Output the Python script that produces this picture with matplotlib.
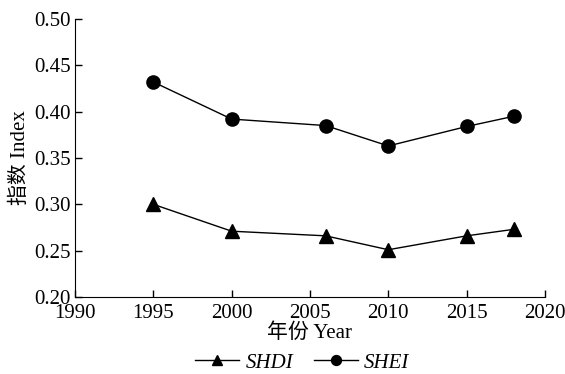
import matplotlib.pyplot as plt

years = [1995, 2000, 2006, 2010, 2015, 2018]
shdi = [0.300, 0.271, 0.266, 0.251, 0.266, 0.273]
shei = [0.432, 0.392, 0.385, 0.363, 0.384, 0.395]

plt.rcParams['font.family'] = ['Liberation Serif', 'Noto Sans CJK SC']
plt.rcParams['font.size'] = 15

fig = plt.figure(figsize=(5.65, 3.74), dpi=100)
ax = fig.add_axes([0.1327, 0.2059, 0.8319, 0.7433])

ax.plot(years, shdi, color='black', lw=1, marker='^', ms=9.5, label='SHDI')
ax.plot(years, shei, color='black', lw=1, marker='o', ms=9.5, label='SHEI')

ax.set_xlim(1990, 2020)
ax.set_ylim(0.20, 0.50)
ax.set_xticks(range(1990, 2021, 5))
ax.set_yticks([0.20, 0.25, 0.30, 0.35, 0.40, 0.45, 0.50])
ax.set_yticklabels(['0.20', '0.25', '0.30', '0.35', '0.40', '0.45', '0.50'])
ax.tick_params(direction='in', length=5, width=1, labelsize=15)
ax.tick_params(axis='x', pad=5)
ax.tick_params(axis='y', pad=3)
ax.spines['top'].set_visible(False)
ax.spines['right'].set_visible(False)
ax.set_xlabel('年份 Year', fontsize=15, labelpad=0)
ax.set_ylabel('指数 Index', fontsize=15, labelpad=3)

leg = fig.legend(loc='center', bbox_to_anchor=(0.535, 0.03), ncol=2, frameon=False,
                 prop={'style': 'italic', 'size': 15}, handlelength=2.1, markerscale=0.75,
                 handletextpad=0.3, columnspacing=1.0, borderpad=0)

fig.savefig('out.png', dpi=100)
